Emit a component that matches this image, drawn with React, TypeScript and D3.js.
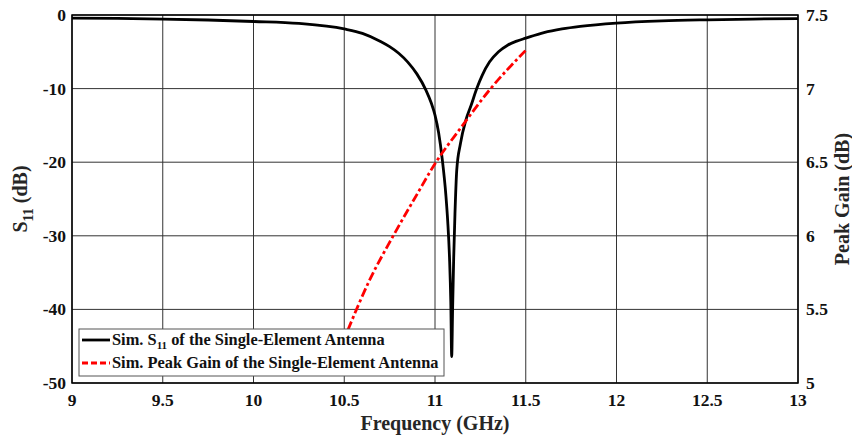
import React, { useEffect, useRef } from 'react';
import * as d3 from 'd3';

// S11 of the single-element antenna (GHz, dB)
const s11Freq = [
  9.0, 9.25, 9.5, 9.75, 10.0, 10.25, 10.5, 10.6, 10.7, 10.75, 10.8, 10.85, 10.9, 10.95, 10.98,
  11.0, 11.02, 11.04, 11.06, 11.07, 11.08, 11.087, 11.092, 11.097, 11.103, 11.11, 11.12,
  11.14, 11.17, 11.2, 11.23, 11.26, 11.3, 11.35, 11.4, 11.45, 11.5, 11.6, 11.7, 11.8,
  12.0, 12.25, 12.5, 12.75, 13.0,
];
const s11Values = [
  -0.42, -0.47, -0.55, -0.68, -0.88, -1.15, -1.9, -2.5, -3.6, -4.3, -5.2, -6.4, -8.0, -10.2, -12.0,
  -13.6, -16.0, -19.6, -24.5, -28, -33, -39, -46.4, -40, -33, -27, -21,
  -17.5, -14.3, -12.2, -10.0, -8.2, -6.4, -5.0, -4.1, -3.55, -3.15, -2.4, -1.9, -1.55,
  -1.1, -0.8, -0.65, -0.55, -0.48,
];

// Peak gain (GHz, dB)
const gainFreq = [10.52, 10.64, 10.77, 10.9, 11.0, 11.14, 11.3, 11.5];
const gainValues = [5.36, 5.7, 6.0, 6.28, 6.49, 6.73, 6.99, 7.26];

const xTicks = [9, 9.5, 10, 10.5, 11, 11.5, 12, 12.5, 13];
const leftTicks = [0, -10, -20, -30, -40, -50];
const rightTicks = [5, 5.5, 6, 6.5, 7, 7.5];

const legendLabels = [
  'Sim. S11 of the Single-Element Antenna',
  'Sim. Peak Gain of the Single-Element Antenna',
];

const App = () => {
  const ref = useRef<SVGSVGElement>(null);

  useEffect(() => {
    const width = 852;
    const height = 435;
    const margin = { top: 15, right: 54, bottom: 52, left: 72 };
    const font = '"Liberation Serif", "Times New Roman", serif';

    const svg = d3.select(ref.current);
    svg.selectAll('*').remove();
    svg.attr('width', width).attr('height', height);

    const x = d3.scaleLinear().domain([9, 13]).range([margin.left, width - margin.right]);
    const yL = d3.scaleLinear().domain([-50, 0]).range([height - margin.bottom, margin.top]);
    const yR = d3.scaleLinear().domain([5, 7.5]).range([height - margin.bottom, margin.top]);

    svg.append('rect').attr('width', width).attr('height', height).attr('fill', '#fff');

    // grid
    const grid = svg.append('g').attr('stroke', '#333').attr('stroke-width', 1);
    grid.selectAll('line.v')
      .data(xTicks)
      .join('line')
      .attr('class', 'v')
      .attr('x1', d => x(d)).attr('x2', d => x(d))
      .attr('y1', yL(0)).attr('y2', yL(-50));
    grid.selectAll('line.h')
      .data(leftTicks)
      .join('line')
      .attr('class', 'h')
      .attr('x1', x(9)).attr('x2', x(13))
      .attr('y1', d => yL(d)).attr('y2', d => yL(d));

    // S11 curve
    const s11Data = s11Freq.map((f, i) => [f, s11Values[i]] as [number, number]);
    const lineL = d3.line<[number, number]>()
      .x(d => x(d[0]))
      .y(d => yL(d[1]))
      .curve(d3.curveMonotoneX);
    svg.append('path')
      .datum(s11Data)
      .attr('d', lineL)
      .attr('fill', 'none')
      .attr('stroke', '#000')
      .attr('stroke-width', 2.8);

    // gain curve
    const gainData = gainFreq.map((f, i) => [f, gainValues[i]] as [number, number]);
    const lineR = d3.line<[number, number]>()
      .x(d => x(d[0]))
      .y(d => yR(d[1]))
      .curve(d3.curveMonotoneX);
    svg.append('path')
      .datum(gainData)
      .attr('d', lineR)
      .attr('fill', 'none')
      .attr('stroke', '#ff0000')
      .attr('stroke-width', 2.8)
      .attr('stroke-dasharray', '9,3,3,3');

    // frame
    svg.append('rect')
      .attr('x', x(9)).attr('y', yL(0))
      .attr('width', x(13) - x(9)).attr('height', yL(-50) - yL(0))
      .attr('fill', 'none').attr('stroke', '#000').attr('stroke-width', 1.5);

    // tick labels
    const labels = svg.append('g')
      .attr('font-family', font).attr('font-weight', 'bold').attr('font-size', 17.5).attr('fill', '#111');
    labels.selectAll('text.x')
      .data(xTicks)
      .join('text')
      .attr('class', 'x')
      .attr('x', d => x(d)).attr('y', yL(-50) + 23)
      .attr('text-anchor', 'middle')
      .text(d => String(d));
    labels.selectAll('text.l')
      .data(leftTicks)
      .join('text')
      .attr('class', 'l')
      .attr('x', x(9) - 6).attr('y', d => yL(d) + 6)
      .attr('text-anchor', 'end')
      .text(d => String(d));
    labels.selectAll('text.r')
      .data(rightTicks)
      .join('text')
      .attr('class', 'r')
      .attr('x', x(13) + 8).attr('y', d => yR(d) + 6)
      .attr('text-anchor', 'start')
      .text(d => String(d));

    // axis titles
    const titles = svg.append('g')
      .attr('font-family', font).attr('font-weight', 'bold').attr('font-size', 20).attr('fill', '#262626');
    titles.append('text')
      .attr('x', x(11)).attr('y', 430)
      .attr('text-anchor', 'middle')
      .text('Frequency (GHz)');
    const yt = titles.append('text')
      .attr('transform', `translate(27,${(yL(0) + yL(-50)) / 2}) rotate(-90)`)
      .attr('text-anchor', 'middle');
    yt.append('tspan').text('S');
    yt.append('tspan').attr('font-size', 14).attr('dy', 6).text('11');
    yt.append('tspan').attr('dy', -6).text(' (dB)');
    titles.append('text')
      .attr('transform', `translate(849,${(yL(0) + yL(-50)) / 2}) rotate(-90)`)
      .attr('text-anchor', 'middle')
      .text('Peak Gain (dB)');

    // legend
    const lg = svg.append('g');
    lg.append('rect')
      .attr('x', 79).attr('y', 329).attr('width', 365).attr('height', 47)
      .attr('fill', '#fff').attr('stroke', '#555').attr('stroke-width', 1);
    const rows = [345, 368];
    lg.append('line')
      .attr('x1', 82).attr('x2', 110).attr('y1', rows[0] - 5).attr('y2', rows[0] - 5)
      .attr('stroke', '#000').attr('stroke-width', 2.8);
    lg.append('line')
      .attr('x1', 82).attr('x2', 110).attr('y1', rows[1] - 5).attr('y2', rows[1] - 5)
      .attr('stroke', '#ff0000').attr('stroke-width', 2.8).attr('stroke-dasharray', '6,3');
    const lt = lg.append('g')
      .attr('font-family', font).attr('font-weight', 'bold').attr('font-size', 16.4).attr('fill', '#111');
    const t0 = lt.append('text').attr('x', 112).attr('y', rows[0]);
    t0.append('tspan').text('Sim. S');
    t0.append('tspan').attr('font-size', 11).attr('dy', 4).text('11');
    t0.append('tspan').attr('dy', -4).text(legendLabels[0].replace('Sim. S11', ''));
    lt.append('text').attr('x', 112).attr('y', rows[1]).text(legendLabels[1]);
  }, []);

  return (
    <div style={{ position: 'absolute', left: 0, top: 0 }}>
      <svg ref={ref} style={{ display: 'block' }}></svg>
    </div>
  );
};

export default App;
